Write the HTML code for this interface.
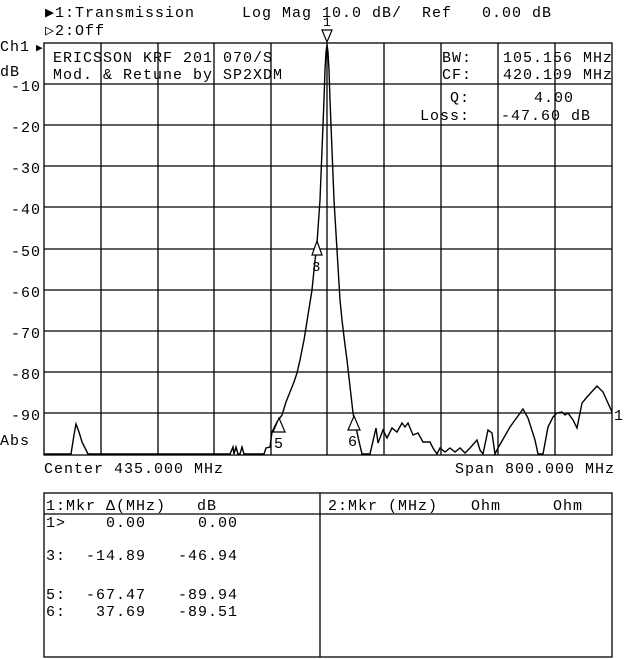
<!DOCTYPE html>
<html><head><meta charset="utf-8"><style>
html,body{margin:0;padding:0;background:#fff;}
svg{display:block;}
text{font-family:"Liberation Mono",monospace;font-size:15px;fill:#000;letter-spacing:1.0px;white-space:pre;}
</style></head><body>
<svg width="640" height="659" viewBox="0 0 640 659" xmlns="http://www.w3.org/2000/svg" xml:space="preserve">
<g stroke="#000" stroke-width="1.3" fill="none">
<rect x="44" y="43" width="568" height="412"/>
<path d="M101 43V455M158 43V455M214 43V455M271 43V455M327 43V455M384 43V455M441 43V455M498 43V455M555 43V455"/>
<path d="M44 84H612M44 125H612M44 166H612M44 207H612M44 249H612M44 290H612M44 331H612M44 372H612M44 413H612"/>
<rect x="44" y="493" width="568" height="164"/>
<path d="M44 514H612M320 493V657"/>
</g>
<polyline fill="none" stroke="#000" stroke-width="1.4" points="44,454 71,454 74,435 76,424 79,432 82,442 85,448 88,454 230,454 233,447 234,454 236,447 238,454 240,454 242,447 244,454 264,454 266,448 270,447 272,432 277,422 282,415 286,402 290,392 294,382 297,373 300,360 304,340 308,315 312,290 314,270 317,243 320,200 322,150 324,100 325,70 326,52 327,45 328,52 329,70 330,100 332,150 334,200 337,250 340,300 342,320 345,345 347,360 353,413 358,437 362,454 370,454 376,428 378,443 383,430 387,438 392,428 397,432 402,423 405,427 408,423 413,435 418,433 423,442 430,442 433,448 437,454 440,448 445,452 450,448 455,452 460,448 465,453 470,448 477,440 480,450 483,454 488,430 492,433 495,454 498,448 510,427 523,409 528,418 535,440 538,454 543,454 548,427 553,417 557,413 562,412 565,415 568,413 573,420 577,428 582,403 587,397 597,386 603,392 612,412"/>
<g fill="#fff" stroke="#000" stroke-width="1.2">
<path d="M322 30H332L327 42Z"/>
<path d="M317 241L312 255H322Z"/>
<path d="M279 418L273 432H285Z"/>
<path d="M354 416L348 430H360Z"/>
</g>
<text x="323" y="26" style="font-size:13px">1</text>
<text x="312" y="271" style="font-size:14px">3</text>
<text x="274" y="448" style="font-size:15px">5</text>
<text x="348" y="446" style="font-size:15px">6</text>
<text x="614" y="420" style="font-size:15px">1</text>

<text x="45" y="17">▶1:Transmission</text>
<text x="242" y="17">Log Mag 10.0 dB/  Ref   0.00 dB</text>
<text x="45" y="35">▷2:Off</text>
<text x="0" y="51">Ch1</text>
<text x="36" y="51" style="font-size:11px">▶</text>
<text x="0" y="76">dB</text>
<g text-anchor="end">
<text x="41" y="91">-10</text><text x="41" y="132">-20</text><text x="41" y="173">-30</text>
<text x="41" y="214">-40</text><text x="41" y="256">-50</text><text x="41" y="297">-60</text>
<text x="41" y="338">-70</text><text x="41" y="379">-80</text><text x="41" y="420">-90</text>
</g>
<text x="0" y="445">Abs</text>
<text x="53" y="62">ERICSSON KRF 201 070/S</text>
<text x="53" y="79">Mod. &amp; Retune by SP2XDM</text>
<text x="442" y="62">BW:</text><text x="503" y="62">105.156 MHz</text>
<text x="442" y="79">CF:</text><text x="503" y="79">420.109 MHz</text>
<text x="450" y="102">Q:</text><text x="534" y="102">4.00</text>
<text x="420" y="120">Loss:</text><text x="501" y="120">-47.60 dB</text>
<text x="44" y="473">Center 435.000 MHz</text>
<text x="455" y="473">Span 800.000 MHz</text>
<text x="46" y="510">1:Mkr Δ(MHz)</text><text x="197" y="510">dB</text>
<text x="328" y="510">2:Mkr (MHz)</text><text x="471" y="510">Ohm</text><text x="553" y="510">Ohm</text>
<g text-anchor="end">
<text x="146" y="527">0.00</text><text x="238" y="527">0.00</text>
<text x="146" y="560">-14.89</text><text x="238" y="560">-46.94</text>
<text x="146" y="599">-67.47</text><text x="238" y="599">-89.94</text>
<text x="146" y="616">37.69</text><text x="238" y="616">-89.51</text>
</g>
<text x="46" y="527">1&gt;</text>
<text x="46" y="560">3:</text>
<text x="46" y="599">5:</text>
<text x="46" y="616">6:</text>
</svg>
</body></html>
